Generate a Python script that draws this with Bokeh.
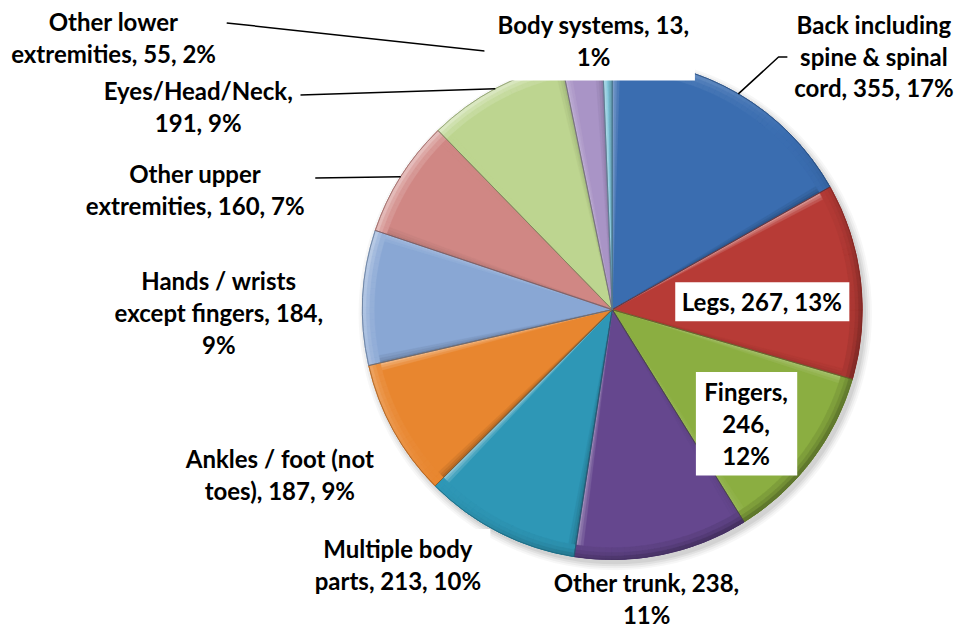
import numpy as np
from bokeh.plotting import figure
from bokeh.models import Range1d
from bokeh.core.properties import value
from bokeh.embed import file_html
from bokeh.resources import INLINE

# ---------------- data ----------------
categories = ["Back including spine & spinal cord", "Legs", "Fingers", "Other trunk",
              "Multiple body parts", "Ankles / foot (not toes)", "Hands / wrists except fingers",
              "Other upper extremities", "Eyes/Head/Neck", "Other lower extremities", "Body systems"]
counts = [355, 267, 246, 238, 213, 187, 184, 160, 191, 55, 13]
percents = ["17%", "13%", "12%", "11%", "10%", "9%", "9%", "7%", "9%", "2%", "1%"]
label_formats = ["Back including\nspine & spinal\ncord, {n}, {p}",
                 "Legs, {n}, {p}",
                 "Fingers,\n{n},\n{p}",
                 "Other trunk, {n},\n{p}",
                 "Multiple body\nparts, {n}, {p}",
                 "Ankles / foot (not\ntoes), {n}, {p}",
                 "Hands / wrists\nexcept fingers, {n},\n{p}",
                 "Other upper\nextremities, {n}, {p}",
                 "Eyes/Head/Neck,\n{n}, {p}",
                 "Other lower\nextremities, {n}, {p}",
                 "Body systems, {n},\n{p}"]
colors = ["#3A6DB0", "#B73B36", "#8BAE41", "#65478E", "#2E97B6", "#E8862F",
          "#89A7D4", "#D08784", "#BDD590", "#A994C6", "#7FC4DA"]

# ---------------- layout (reference pixels, mapped onto the figure) ----------------
REF_W, REF_H = 975, 644
W, H = 959, 628
kx, ky = W / REF_W, H / REF_H


def Y(py):
    return REF_H - py


cx, cy, R = 622, Y(317), 254
label_pos = [(888, 57), (774, 309), (758, 434), (657, 613), (404, 578), (284, 486),
             (222, 320), (198, 194), (201, 109), (115, 38), (603, 41)]
label_boxes = {1: (686, 289, 863, 329), 2: (707, 381, 810, 487),
               4: (312, 542, 498, 612), 10: (492, 0, 706, 82)}
leader_starts = {0: [(800, 58), (791, 58)], 7: [(320, 182)], 8: [(305, 97)], 9: [(230, 23)]}


def blend(hexc, target, f):
    c = np.array([int(hexc[i:i + 2], 16) for i in (1, 3, 5)], float)
    t = np.array(target, float)
    m = c * (1 - f) + t * f
    return "#%02x%02x%02x" % tuple(int(round(v)) for v in m)


n = len(counts)
total = float(sum(counts))
cum = np.concatenate([[0.0], np.cumsum(counts)]) / total
a_start = np.pi / 2 - 2 * np.pi * cum[:-1]
a_end = np.pi / 2 - 2 * np.pi * cum[1:]
a_mid = (a_start + a_end) / 2
Lv = np.array([-1.0, 1.0]) / np.sqrt(2)

p = figure(width=W, height=H, x_range=Range1d(0, REF_W), y_range=Range1d(0, REF_H),
           output_backend="svg", toolbar_location=None, x_axis_type=None, y_axis_type=None,
           min_border=0, outline_line_color=None, background_fill_color="white",
           border_fill_color="white")
p.grid.grid_line_color = None

# soft shadow
for k, a in [(7, 0.03), (5, 0.04), (3, 0.05), (1, 0.06)]:
    p.circle(x=cx + 3, y=cy - 4, radius=R + k, fill_color="black", fill_alpha=a, line_color=None)

# base slices
p.wedge(x=cx, y=cy, radius=R, start_angle=a_end, end_angle=a_start, direction="anticlock",
        fill_color=colors, line_color=colors, line_width=0.5)

# bevel along radial edges
es, ee, ec = [], [], []
deltas = np.deg2rad([1.8, 1.1, 0.5])
hi = [0.14, 0.28, 0.45]
sh = [0.07, 0.14, 0.24]
for li in range(3):
    for i in range(n):
        span = a_start[i] - a_end[i]
        dl = min(deltas[li], 0.4 * span)
        a1, a2 = a_start[i], a_end[i]
        d1 = np.dot([-np.sin(a1), np.cos(a1)], Lv)
        d2 = np.dot([np.sin(a2), -np.cos(a2)], Lv)
        for (s, e, d) in [(a1 - dl, a1, d1), (a2, a2 + dl, d2)]:
            col = blend(colors[i], (255, 255, 255), hi[li] * d) if d >= 0 else \
                blend(colors[i], (0, 0, 0), sh[li] * (-d))
            es.append(s); ee.append(e); ec.append(col)
p.wedge(x=cx, y=cy, radius=R, start_angle=es, end_angle=ee, direction="anticlock",
        fill_color=ec, line_color=ec, line_width=0.3)

# bevel along rim
rs, re_, ri, rc = [], [], [], []
widths = [12, 7, 3.5]
for li in range(3):
    for i in range(n):
        span = a_start[i] - a_end[i]
        k = max(1, int(np.ceil(span / np.deg2rad(1.5))))
        edges = np.linspace(a_end[i], a_start[i], k + 1)
        for j in range(k):
            m = (edges[j] + edges[j + 1]) / 2
            d = np.dot([np.cos(m), np.sin(m)], Lv)
            col = blend(colors[i], (255, 255, 255), hi[li] * d) if d >= 0 else \
                blend(colors[i], (0, 0, 0), sh[li] * 1.3 * (-d))
            rs.append(edges[j]); re_.append(edges[j + 1]); ri.append(R - widths[li]); rc.append(col)
p.annular_wedge(x=cx, y=cy, inner_radius=ri, outer_radius=R, start_angle=rs, end_angle=re_,
                direction="anticlock", fill_color=rc, line_color=rc, line_width=0.4)

# slice outlines
p.wedge(x=cx, y=cy, radius=R, start_angle=a_end, end_angle=a_start, direction="anticlock",
        fill_color=None, line_color=[blend(c, (0, 0, 0), 0.35) for c in colors],
        line_width=1, line_alpha=0.7)

# leader lines (end on the rim, at each slice's middle angle)
lx, ly = [], []
for i, pts in leader_starts.items():
    xs = [x for x, _ in pts] + [cx + R * np.cos(a_mid[i])]
    ys = [Y(y) for _, y in pts] + [cy + R * np.sin(a_mid[i]) * kx / ky]
    lx.append(xs); ly.append(ys)
p.multi_line(xs=lx, ys=ly, line_color="black", line_width=1.5)

# label backgrounds
bl, br, bt, bb = [], [], [], []
for i, (l, t, r, b) in label_boxes.items():
    bl.append(l); br.append(r); bt.append(Y(t)); bb.append(Y(b))
p.quad(left=bl, right=br, top=bt, bottom=bb, fill_color="white", line_color=None)

# labels
labels = [f.format(n=c, p=pc) for f, c, pc in zip(label_formats, counts, percents)]
p.text(x=[x for x, _ in label_pos], y=[Y(y) for _, y in label_pos], text=labels,
       text_font=value("Lato"), text_font_style="bold", text_font_size="24px",
       text_align="center", text_baseline="middle", text_line_height=1.1, text_color="black")

open("out.html", "w").write(file_html(p, INLINE))
